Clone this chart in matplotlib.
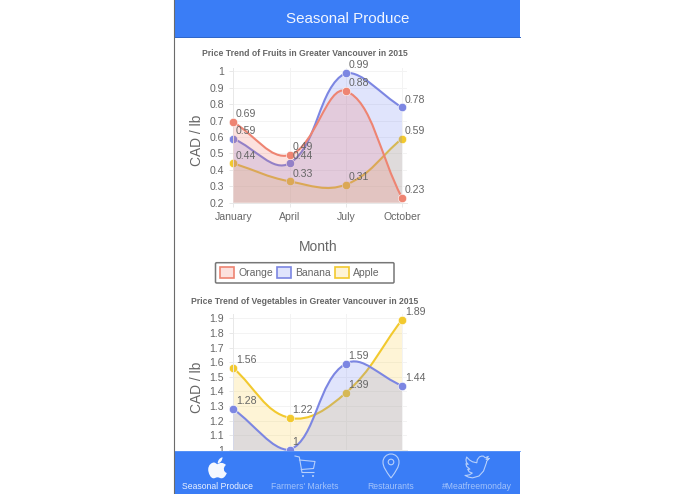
import matplotlib
matplotlib.use("Agg")
import matplotlib.pyplot as plt
from matplotlib.path import Path
from matplotlib.patches import PathPatch, Patch, Rectangle, Circle, FancyBboxPatch

plt.rcParams['font.family'] = ['Liberation Sans', 'DejaVu Sans']

W, H = 695, 494
TEXT = '#666666'
HEADER_TITLE = 'Seasonal Produce'
NAV_LABELS = ['Seasonal Produce', "Farmers' Markets", 'Restaurants', '#Meatfreemonday']

MONTHS = ['January', 'April', 'July', 'October']

FRUIT_TITLE = 'Price Trend of Fruits in Greater Vancouver in 2015'
ORANGE_FRUIT = [0.69, 0.49, 0.88, 0.23]
BANANA_FRUIT = [0.59, 0.44, 0.99, 0.78]
APPLE_FRUIT = [0.44, 0.33, 0.31, 0.59]
FRUIT_TICKS = [0.2, 0.3, 0.4, 0.5, 0.6, 0.7, 0.8, 0.9, 1.0]
FRUIT_TICK_LABELS = ['0.2', '0.3', '0.4', '0.5', '0.6', '0.7', '0.8', '0.9', '1']

VEG_TITLE = 'Price Trend of Vegetables in Greater Vancouver in 2015'
BANANA_VEG = [1.28, 1.00, 1.59, 1.44]
APPLE_VEG = [1.56, 1.22, 1.39, 1.89]
VEG_TICKS = [1.0, 1.1, 1.2, 1.3, 1.4, 1.5, 1.6, 1.7, 1.8, 1.9]
VEG_TICK_LABELS = ['1', '1.1', '1.2', '1.3', '1.4', '1.5', '1.6', '1.7', '1.8', '1.9']

SERIES_NAMES = ['Orange', 'Banana', 'Apple']
LINE = {'Orange': '#EE8472', 'Banana': '#7C86E2', 'Apple': '#F2C92E'}
FILL = {'Orange': (0.95, 0.42, 0.36, 0.20), 'Banana': (0.40, 0.47, 0.95, 0.20), 'Apple': (0.98, 0.80, 0.20, 0.20)}


def px_axes(fig, l, t, r, b):
    return fig.add_axes([l / W, 1 - b / H, (r - l) / W, (b - t) / H])


def spline(ax, values, ymin, ymax, tension=0.4):
    """Chart.js style bezier through the points, in pixel space."""
    xy = ax.transData.transform([(i, v) for i, v in enumerate(values)])
    lo = ax.transData.transform((0, ymin))[1]
    hi = ax.transData.transform((0, ymax))[1]
    n = len(xy)
    cin, cout = [None] * n, [None] * n
    for i in range(n):
        p0 = xy[max(i - 1, 0)]
        p1 = xy[i]
        p2 = xy[min(i + 1, n - 1)]
        d01 = ((p1 - p0) ** 2).sum() ** 0.5
        d12 = ((p2 - p1) ** 2).sum() ** 0.5
        tot = (d01 + d12) or 1
        cin[i] = p1 - tension * d01 / tot * (p2 - p0)
        cout[i] = p1 + tension * d12 / tot * (p2 - p0)
        cin[i][1] = min(max(cin[i][1], lo), hi)
        cout[i][1] = min(max(cout[i][1], lo), hi)
    pts = [xy[0]]
    for i in range(n - 1):
        pts += [cout[i], cin[i + 1], xy[i + 1]]
    return ax.transData.inverted().transform(pts)


def draw_series(ax, name, values, ymin, ymax, z):
    pts = [tuple(p) for p in spline(ax, values, ymin, ymax)]
    codes = [Path.MOVETO] + [Path.CURVE4] * (len(pts) - 1)
    fpts = pts + [(len(values) - 1, ymin), (0, ymin), pts[0]]
    fcodes = codes + [Path.LINETO, Path.LINETO, Path.CLOSEPOLY]
    ax.add_patch(PathPatch(Path(fpts, fcodes), facecolor=FILL[name], edgecolor='none', zorder=z))
    ax.add_patch(PathPatch(Path(pts, codes), facecolor='none', edgecolor=LINE[name], lw=1.5, zorder=z + 0.1,
                           clip_on=False))
    ax.plot(range(len(values)), values, 'o', ms=6, mfc=LINE[name], mec='#FFFFFF', mew=0.4, zorder=z + 0.2,
            clip_on=False, ls='none')
    for i, v in enumerate(values):
        ax.annotate(f'{v:g}', (i, v), xytext=(2.0, 5.6), textcoords='offset points', ha='left', va='center',
                    fontsize=7.6, color=TEXT, zorder=20, annotation_clip=False)


def chart(fig, box, xlim_right, ylim, ticks, tick_labels, series, title, title_y, ylabel_y, xlabel=None):
    l, t, r, b = box
    ax = px_axes(fig, l, t, r, b)
    ax.set_xlim(0, xlim_right)
    ax.set_ylim(*ylim)
    ax.patch.set_alpha(0)
    ax.set_xticks(range(len(MONTHS)))
    ax.set_xticklabels(MONTHS)
    ax.set_yticks(ticks)
    ax.set_yticklabels(tick_labels)
    ax.grid(True, color='#F3F3F3', lw=0.7, zorder=0)
    ax.set_axisbelow(True)
    ax.tick_params(axis='both', length=3, width=0.7, color='#E8E8E8', labelcolor=TEXT, labelsize=7.6, pad=3.5)
    for side in ('top', 'right'):
        ax.spines[side].set_visible(False)
    for side in ('left', 'bottom'):
        ax.spines[side].set_color('#E8E8E8')
        ax.spines[side].set_linewidth(0.7)
    z = 3
    for name, values in series:
        draw_series(ax, name, values, ylim[0], ticks[-1], z)
        z -= 1
    ax.set_ylabel('CAD / lb', fontsize=9.9, color=TEXT)
    ax.yaxis.set_label_coords((204 - l) / (r - l), (b - ylabel_y) / (b - t))
    ax.set_title(title, fontsize=6.2, fontweight='bold', color=TEXT, x=(304.6 - l) / (r - l),
                 y=(b - title_y) / (b - t), va='center', pad=0)
    if xlabel:
        ax.set_xlabel(xlabel, fontsize=9.9, color=TEXT)
        ax.xaxis.set_label_coords((318 - l) / (r - l), (b - 246.7) / (b - t))
        ax.xaxis.label.set_va('center')
    return ax


fig = plt.figure(figsize=(W / 100, H / 100), dpi=100, facecolor='white')

# Fruit chart: value 1 sits at y=71.3 and 0.2 at y=202.7 in the picture
per_px1 = 0.8 / (202.7 - 71.3)
ax1 = chart(fig, (233.3, 68, 406.5, 202.7), 3 * 173.2 / 168.7, (0.2, 1 + 3.3 * per_px1), FRUIT_TICKS,
            FRUIT_TICK_LABELS,
            [('Orange', ORANGE_FRUIT), ('Banana', BANANA_FRUIT), ('Apple', APPLE_FRUIT)],
            FRUIT_TITLE, 54, 140, xlabel='Month')

# Vegetable chart
per_px2 = 0.9 / (450 - 318.3)
ax2 = chart(fig, (233.3, 314, 406.5, 450), 3 * 173.2 / 168.7, (1.0, 1.9 + 4.3 * per_px2), VEG_TICKS,
            VEG_TICK_LABELS,
            [('Banana', BANANA_VEG), ('Apple', APPLE_VEG)],
            VEG_TITLE, 301, 387)

# Legend (the frame is drawn separately: the reference has more room on its right side)
handles = [Patch(facecolor=FILL[n], edgecolor=LINE[n], lw=1.2, label=n) for n in SERIES_NAMES]
leg = fig.legend(handles=handles, ncol=3, loc='center left', bbox_to_anchor=(220 / W, 1 - 272.7 / H),
                 fontsize=7.5, labelcolor=TEXT, frameon=False, handlelength=1.37, handleheight=1.3,
                 handletextpad=0.36, columnspacing=0.42, borderpad=0, borderaxespad=0)
leg.set_zorder(30)

# Page chrome, drawn in image pixel coordinates
ov = fig.add_axes([0, 0, 1, 1], zorder=50)
ov.set_xlim(0, W)
ov.set_ylim(H, 0)
ov.axis('off')
ov.add_patch(FancyBboxPatch((215.5, 262.7), 178.5, 20.3, boxstyle='round,pad=0,rounding_size=1.2',
                            fc='none', ec='#777777', lw=1.1))
BLUE = '#3A7DF6'
ov.add_patch(Rectangle((175, 0), 345, 37, fc=BLUE, ec='none'))
ov.plot([175, 520], [37.4, 37.4], color='#2A63C8', lw=0.7)
ov.plot([174.3, 174.3], [0, H], color='#6B6B6B', lw=0.8)
ov.text(347.5, 19, HEADER_TITLE, color='#F2F6FF', fontsize=10.9, ha='center', va='center')
ov.add_patch(Rectangle((175, 451), 345, 43, fc=BLUE, ec='none'))
ov.plot([175, 520], [451.3, 451.3], color='#5C95F8', lw=0.6)

nav_x = [218, 304.3, 391, 477.3]
nav_c = ['#EAF1FF', '#A3C3FA', '#A3C3FA', '#A3C3FA']
for x, s, c in zip(nav_x, NAV_LABELS, nav_c):
    ov.text(x, 486.8, s, color=c, fontsize=6.2, ha='center', va='center')

ICON = '#B7D0FB'
# Apple glyph
ax0, ay0 = 217.5, 468
M, C, Z = Path.MOVETO, Path.CURVE4, Path.CLOSEPOLY
apple = [(0.3, -3.8),
         (2.5, -5.8), (6, -5.5), (8.5, -3),
         (5.5, -1), (5.5, 3.8), (9.3, 5),
         (8, 8.5), (6, 10.3), (4, 10.3),
         (2.5, 10.3), (1.5, 9.3), (0, 9.3),
         (-1.5, 9.3), (-2.5, 10.3), (-4, 10.3),
         (-7, 10.3), (-9.3, 5), (-9.3, 1.5),
         (-9.3, -3), (-6, -5.5), (-3.5, -5.5),
         (-2, -5.5), (-1, -3.8), (0.3, -3.8),
         (0.3, -3.8)]
acodes = [M] + [C] * 24 + [Z]
ov.add_patch(PathPatch(Path([(ax0 + a, ay0 + b) for a, b in apple], acodes), fc='#F4F8FF', ec='none'))
leaf = [(0.2, -4.5), (0.2, -8), (2.5, -10.2), (5, -10.8), (5, -7.5), (2.8, -5), (0.2, -4.5), (0.2, -4.5)]
ov.add_patch(PathPatch(Path([(ax0 + a, ay0 + b) for a, b in leaf], [M] + [C] * 6 + [Z]), fc='#F4F8FF', ec='none'))

# Cart
ov.plot([295, 299.3, 302, 314], [456, 457, 472.5, 472.5], color=ICON, lw=0.8)
ov.plot([299.5, 315, 313.5, 301.3], [460, 461.5, 468.5, 469.5], color=ICON, lw=0.8)
ov.add_patch(Circle((303, 476), 1, fc=ICON, ec='none'))
ov.add_patch(Circle((313, 476), 1, fc=ICON, ec='none'))

# Pin
pin = [(391, 478), (386, 471), (383, 467), (383, 462), (383, 457.5), (386.5, 454), (391, 454),
       (395.5, 454), (399, 457.5), (399, 462), (399, 467), (396, 471), (391, 478), (391, 478)]
ov.add_patch(PathPatch(Path(pin, [M] + [C] * 12 + [Z]), fc='none', ec=ICON, lw=0.8))
ov.add_patch(Circle((391, 462), 2.8, fc='none', ec=ICON, lw=0.8))

# Bird
bird = [(23.95, 4.57), (21.13, 5.35), (23.29, 2.62), (20.16, 3.81), (18.5, 2.4), (16.6, 2.3), (14.5, 3.0),
        (12.3, 5.5), (11.8, 8.3), (7.5, 7.4), (4.5, 5.8), (1.64, 3.16), (0.97, 5.64), (1.4, 7.9), (3.16, 9.73),
        (0.93, 9.11), (1.6, 11.5), (4.88, 14.0), (2.67, 14.08), (4.2, 16.4), (7.27, 17.5), (4.5, 19.0),
        (1.17, 19.6), (0, 19.54), (3.5, 21.1), (7.56, 21.75), (14, 20.1), (18.5, 15.7), (21.55, 8.0),
        (21.54, 7.13), (23.95, 4.57)]
bx = [465 + p[0] for p in bird]
by = [453.5 + 1.12 * p[1] for p in bird]
ov.plot(bx, by, color=ICON, lw=0.8, solid_joinstyle='round')

fig.savefig('out.png', dpi=100, facecolor='white')
